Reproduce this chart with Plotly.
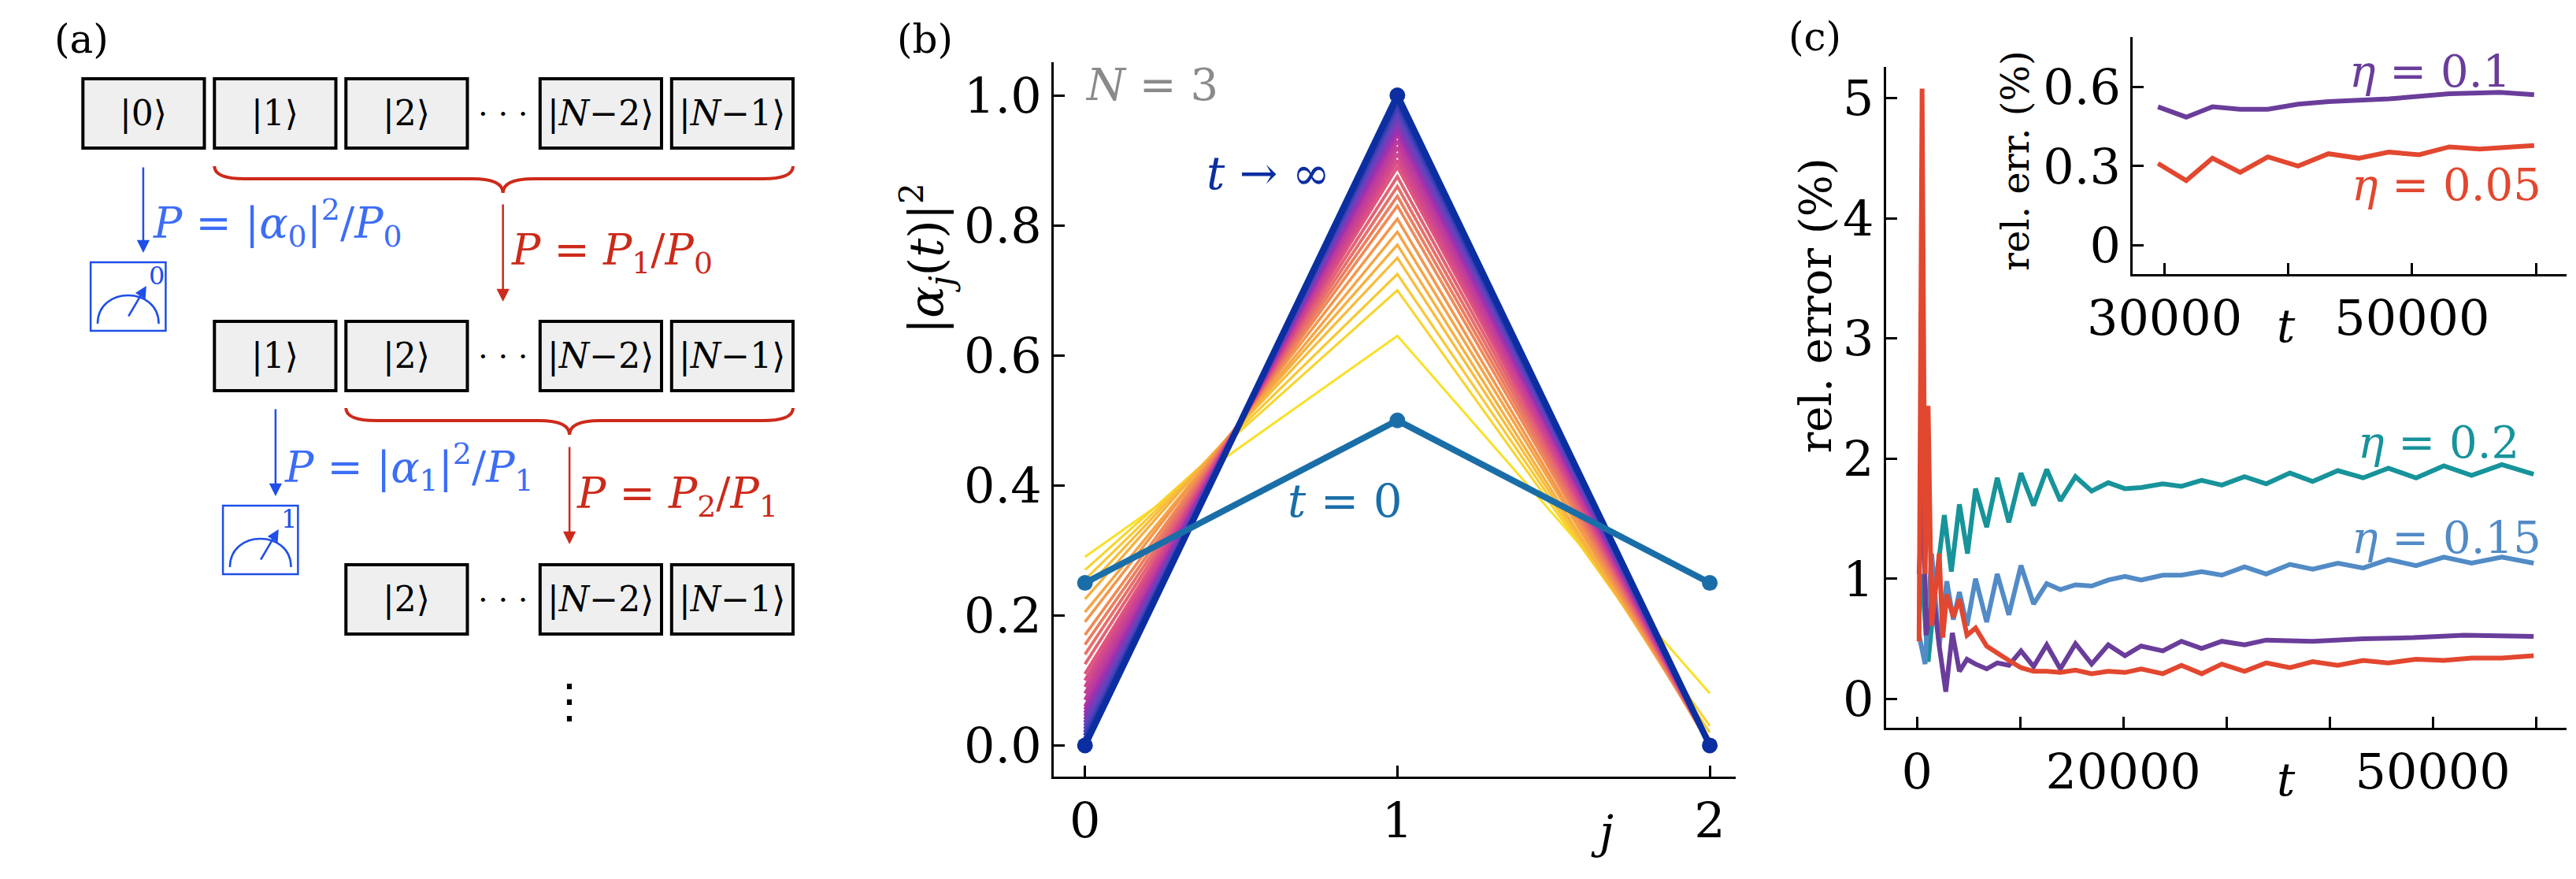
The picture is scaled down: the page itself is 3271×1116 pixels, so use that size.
import plotly.graph_objects as go
from plotly.colors import sample_colorscale

W, H = 3271, 1116
FONT = "DejaVu Serif"

# ---------- panel (b) data ----------
j_vals = [0, 1, 2]
p_t0 = [0.25, 0.5, 0.25]
p_inf = [0.0, 1.0, 0.0]
# family of curves, early (yellow) to late (blue)
fam_j0 = [0.29, 0.27, 0.255, 0.24, 0.225, 0.205, 0.19, 0.17, 0.155, 0.14, 0.125, 0.11, 0.10,
          0.09, 0.08, 0.07, 0.06, 0.055, 0.05, 0.045, 0.04, 0.035, 0.03, 0.025, 0.02, 0.015,
          0.01, 0.007, 0.004, 0.0]
fam_j1 = [0.63, 0.70, 0.725, 0.75, 0.77, 0.79, 0.81, 0.83, 0.845, 0.86, 0.875, 0.89, 0.90,
          0.91, 0.92, 0.93, 0.94, 0.945, 0.95, 0.955, 0.96, 0.965, 0.97, 0.975, 0.98, 0.985,
          0.99, 0.993, 0.996, 1.0]
fam_j2 = [0.08, 0.03, 0.02, 0.01, 0.005, 0.005, 0.0, 0.0, 0.0, 0.0, 0.0, 0.0, 0.0,
          0.0, 0.0, 0.0, 0.0, 0.0, 0.0, 0.0, 0.0, 0.0, 0.0, 0.0, 0.0, 0.0,
          0.0, 0.0, 0.0, 0.0]

# ---------- panel (c) data ----------
t_02 = [440, 1076, 1761, 2642, 3327, 4110, 4892, 5675, 6751, 7779, 8904, 10078, 11301, 12573,
        13894, 15362, 16928, 18542, 20157, 21722, 23826, 25636, 27593, 29550, 31751, 33855,
        36155, 38356, 40802, 43249, 45695, 48386, 51076, 53767, 56703, 59785]
e_02 = [1.04, 0.31, 0.91, 1.53, 1.06, 1.62, 1.21, 1.75, 1.43, 1.84, 1.47, 1.88, 1.61, 1.91,
        1.65, 1.85, 1.73, 1.80, 1.75, 1.76, 1.79, 1.77, 1.82, 1.78, 1.85, 1.79,
        1.88, 1.81, 1.90, 1.84, 1.92, 1.84, 1.94, 1.86, 1.95, 1.87]
t_015 = [196, 783, 1419, 2153, 2886, 3522, 4110, 4843, 5675, 6751, 7779, 8904, 10078, 11301,
         12573, 13894, 15362, 16928, 18542, 20157, 21722, 23826, 25636, 27593, 29550, 31751,
         33855, 36155, 38356, 40802, 43249, 45695, 48386, 51076, 53767, 56703, 59785]
e_015 = [0.53, 0.29, 1.21, 0.44, 0.98, 0.66, 0.89, 0.61, 1.0, 0.64, 1.04, 0.70, 1.11, 0.79,
         0.96, 0.91, 0.95, 0.94, 0.99, 1.02, 0.99, 1.03, 1.03, 1.06, 1.03, 1.10,
         1.04, 1.12, 1.08, 1.13, 1.09, 1.16, 1.11, 1.18, 1.13, 1.18, 1.13]
t_01 = [196, 587, 881, 1566, 2153, 2789, 3425, 4110, 4843, 5675, 6751, 7779, 8904, 10078,
        11301, 12573, 13894, 15362, 16928, 18542, 20157, 21722, 23826, 25636, 27593, 29550,
        31751, 33855, 38356, 43249, 48141, 53033, 59785]
e_01 = [1.04, 1.77, 0.53, 0.87, 0.44, 0.06, 0.55, 0.23, 0.33, 0.29, 0.25, 0.30, 0.28, 0.40,
        0.27, 0.45, 0.25, 0.46, 0.29, 0.45, 0.36, 0.44, 0.40, 0.48, 0.42, 0.48,
        0.45, 0.49, 0.48, 0.50, 0.51, 0.53, 0.52]
t_005 = [196, 489, 783, 1076, 1419, 1810, 2153, 2495, 2886, 3522, 4110, 4843, 5675, 6751,
         7779, 8904, 10078, 11301, 12573, 13894, 15362, 16928, 18542, 20157, 21722, 23826,
         25636, 27593, 29550, 31751, 33855, 36155, 38356, 40802, 43249, 45695, 48386, 51076,
         53767, 56703, 59785]
e_005 = [0.48, 5.08, 1.04, 2.44, 0.61, 0.91, 1.21, 0.51, 0.87, 0.68, 0.83, 0.53, 0.59, 0.44,
         0.38, 0.32, 0.26, 0.23, 0.23, 0.22, 0.24, 0.21, 0.23, 0.22, 0.25, 0.21,
         0.28, 0.21, 0.29, 0.23, 0.30, 0.26, 0.31, 0.28, 0.32, 0.30, 0.33, 0.32,
         0.34, 0.34, 0.36]

# inset
ti_01 = [29470, 31750, 33870, 36110, 38350, 40790, 43240, 45680, 48130, 50570, 53010, 55460,
         57090, 59860]
ei_01 = [0.525, 0.486, 0.525, 0.516, 0.516, 0.535, 0.545, 0.549, 0.555, 0.565, 0.575, 0.578,
         0.58, 0.571]
ti_005 = [29470, 31750, 33870, 36110, 38350, 40790, 43240, 45680, 48130, 50570, 53010, 55460,
          59860]
ei_005 = [0.31, 0.245, 0.33, 0.276, 0.335, 0.30, 0.347, 0.33, 0.353, 0.343, 0.373, 0.365, 0.378]

C02, C015, C01, C005 = "#17939a", "#528bc6", "#6a3d9a", "#e2472f"
BLUE_T0, BLUE_INF = "#1a6ea8", "#0b2fa0"
LB, LR = "#3d6df5", "#cc2a1a"  # diagram blue / red

fig = go.Figure()

# pixel axis for the diagram
fig.add_trace(go.Scatter(x=[0], y=[0], mode="markers", marker=dict(opacity=0),
                         xaxis="x4", yaxis="y4", showlegend=False, hoverinfo="skip"))

# ---------- panel (b) ----------
fam_cols = sample_colorscale(
    [[0, "#f9e02a"], [0.2, "#f59a4a"], [0.4, "#dc4d84"], [0.6, "#a52fae"],
     [0.8, "#5a45be"], [1, "#0b2fa0"]],
    [i / (len(fam_j1) - 1) for i in range(len(fam_j1))])
for i in range(len(fam_j1)):
    fig.add_trace(go.Scatter(x=j_vals, y=[fam_j0[i], fam_j1[i], fam_j2[i]], mode="lines",
                             line=dict(color=fam_cols[i], width=3 + 3 * i / len(fam_j1)),
                             xaxis="x", yaxis="y", showlegend=False))
fig.add_trace(go.Scatter(x=j_vals, y=p_inf, mode="lines+markers",
                         line=dict(color=BLUE_INF, width=8), marker=dict(size=20, color=BLUE_INF),
                         xaxis="x", yaxis="y", showlegend=False))
fig.add_trace(go.Scatter(x=j_vals, y=p_t0, mode="lines+markers",
                         line=dict(color=BLUE_T0, width=8), marker=dict(size=20, color=BLUE_T0),
                         xaxis="x", yaxis="y", showlegend=False))

# ---------- panel (c) ----------
for t, e, c in [(t_02, e_02, C02), (t_015, e_015, C015), (t_01, e_01, C01), (t_005, e_005, C005)]:
    fig.add_trace(go.Scatter(x=t, y=e, mode="lines", line=dict(color=c, width=6),
                             xaxis="x2", yaxis="y2", showlegend=False))
for t, e, c in [(ti_01, ei_01, C01), (ti_005, ei_005, C005)]:
    fig.add_trace(go.Scatter(x=t, y=e, mode="lines", line=dict(color=c, width=6),
                             xaxis="x3", yaxis="y3", showlegend=False))

ax = dict(showline=True, linecolor="black", linewidth=3, ticks="inside", ticklen=14,
          tickwidth=3, tickcolor="black", showgrid=False, zeroline=False, mirror=False,
          tickfont=dict(family=FONT, size=62, color="black"))

fig.update_layout(
    width=W, height=H, margin=dict(l=0, r=0, t=0, b=0),
    paper_bgcolor="white", plot_bgcolor="rgba(0,0,0,0)",
    font=dict(family=FONT, color="black"),
    xaxis=dict(ax, domain=[1295 / W, 2177 / W], range=[-0.1, 2.084], tickvals=[0, 1, 2],
               anchor="y"),
    yaxis=dict(ax, domain=[1 - 978 / H, 1 - 71 / H], range=[-0.048, 1.051],
               tickvals=[0, 0.2, 0.4, 0.6, 0.8, 1.0], tickformat=".1f", anchor="x"),
    xaxis2=dict(ax, domain=[2371 / W, 3251 / W], range=[-3000, 63000],
                tickvals=[0, 10000, 20000, 30000, 40000, 50000, 60000],
                ticktext=["0", "", "20000", "", "", "50000", ""], anchor="y2"),
    yaxis2=dict(ax, domain=[1 - 916 / H, 1 - 77 / H], range=[-0.24, 5.26],
                tickvals=[0, 1, 2, 3, 4, 5], anchor="x2"),
    xaxis3=dict(ax, domain=[2690 / W, 3251 / W], range=[27440, 62500],
                tickvals=[30000, 40000, 50000, 60000], ticktext=["30000", "", "50000", ""],
                anchor="y3"),
    yaxis3=dict(ax, domain=[1 - 340 / H, 1 - 39 / H], range=[-0.11, 0.79],
                tickvals=[0, 0.3, 0.6], ticktext=["0", "0.3", "0.6"], anchor="x3"),
    xaxis4=dict(domain=[0, 1], range=[0, W], visible=False, fixedrange=True, anchor="y4"),
    yaxis4=dict(domain=[0, 1], range=[H, 0], visible=False, fixedrange=True, anchor="x4"),
)


def txt(x, y, s, size=48, color="black", angle=0, xanchor="center"):
    fig.add_annotation(x=x, y=y, xref="x4", yref="y4", text=s, showarrow=False,
                       font=dict(family=FONT, size=size, color=color), textangle=angle,
                       xanchor=xanchor, yanchor="middle")


# panel labels and axis titles
txt(38, 42, "(a)", 50)
txt(1129, 42, "(b)", 50)
txt(2279, 39, "(c)", 50)
txt(1130, 320, "|<i>α<sub>j</sub></i>(<i>t</i>)|<sup>2</sup>", 60, angle=-90)
txt(2004, 1048, "<i>j</i>", 58)
txt(1422, 99, "<i>N</i> = 3", 56, "#8a8a8a")
txt(1572, 212, "<i>t</i> → ∞", 58, BLUE_INF)
txt(1672, 628, "<i>t</i> = 0", 58, BLUE_T0)
txt(2279, 380, "rel. error (%)", 56, angle=-90)
txt(2888, 982, "<i>t</i>", 58)
txt(2538, 196, "rel. err. (%)", 48, angle=-90)
txt(2888, 406, "<i>t</i>", 58)
txt(3074, 82, "<i>η</i> = 0.1", 56, C01)
txt(3095, 226, "<i>η</i> = 0.05", 56, C005)
txt(3085, 553, "<i>η</i> = 0.2", 56, C02)
txt(3095, 674, "<i>η</i> = 0.15", 56, C015)

# ---------- panel (a) diagram ----------
kets = ["|0⟩", "|1⟩", "|2⟩", "|<i>N</i>−2⟩", "|<i>N</i>−1⟩"]
box_x = [40, 210, 380, 631, 801]
box_w = 157
rows = [(92, 0), (400, 1), (709, 2)]
for y0, start in rows:
    for k in range(start, 5):
        fig.add_shape(type="rect", xref="x4", yref="y4", x0=box_x[k], x1=box_x[k] + box_w,
                      y0=y0, y1=y0 + 88, fillcolor="#efefef", line=dict(color="black", width=4))
        txt(box_x[k] + box_w / 2, y0 + 44, kets[k], 44)
    txt(583, y0 + 44, "· · ·", 40)
txt(669, 882, "⋮", 60)


def brace(x0, x1, xm, yt):
    ym, yb = yt + 16, yt + 34
    p = (f"M {x0},{yt} Q {x0},{ym} {x0 + 40},{ym} L {xm - 40},{ym} Q {xm},{ym} {xm},{yb} "
         f"Q {xm},{ym} {xm + 40},{ym} L {x1 - 40},{ym} Q {x1},{ym} {x1},{yt}")
    fig.add_shape(type="path", xref="x4", yref="y4", path=p, line=dict(color=LR, width=4))


brace(210, 958, 583, 203)
brace(380, 958, 669, 510)


def arrow(x, y0, y1, color):
    fig.add_annotation(x=x, y=y1, ax=x, ay=y0, xref="x4", yref="y4", axref="x4", ayref="y4",
                       text="", showarrow=True, arrowhead=2, arrowsize=1.3, arrowwidth=2.5,
                       arrowcolor=color)


arrow(118, 203, 313, "#1f4fe8")
arrow(583, 250, 375, LR)
arrow(289, 510, 622, "#1f4fe8")
arrow(669, 558, 683, LR)
txt(128, 275, "<i>P</i> = |<i>α</i><sub>0</sub>|<sup>2</sup>/<i>P</i><sub>0</sub>", 54, LB,
    xanchor="left")
txt(591, 313, "<i>P</i> = <i>P</i><sub>1</sub>/<i>P</i><sub>0</sub>", 54, LR, xanchor="left")
txt(298, 585, "<i>P</i> = |<i>α</i><sub>1</sub>|<sup>2</sup>/<i>P</i><sub>1</sub>", 54, LB,
    xanchor="left")
txt(676, 622, "<i>P</i> = <i>P</i><sub>2</sub>/<i>P</i><sub>1</sub>", 54, LR, xanchor="left")


def meter(x0, y0, label):
    fig.add_shape(type="rect", xref="x4", yref="y4", x0=x0, x1=x0 + 97, y0=y0, y1=y0 + 87,
                  line=dict(color="#1f4fe8", width=2.5), fillcolor="white")
    p = (f"M {x0 + 9},{y0 + 78} C {x0 + 9},{y0 + 30} {x0 + 88},{y0 + 30} {x0 + 88},{y0 + 78}")
    fig.add_shape(type="path", xref="x4", yref="y4", path=p, line=dict(color="#1f4fe8", width=2.5))
    fig.add_annotation(x=x0 + 72, y=y0 + 30, ax=x0 + 48, ay=y0 + 70, xref="x4", yref="y4",
                       axref="x4", ayref="y4", text="", showarrow=True, arrowhead=2,
                       arrowsize=1.2, arrowwidth=2.5, arrowcolor="#1f4fe8")
    txt(x0 + 85, y0 + 17, label, 32, "#1f4fe8")


meter(50, 325, "0")
meter(221, 634, "1")

fig.write_html("out.html")
